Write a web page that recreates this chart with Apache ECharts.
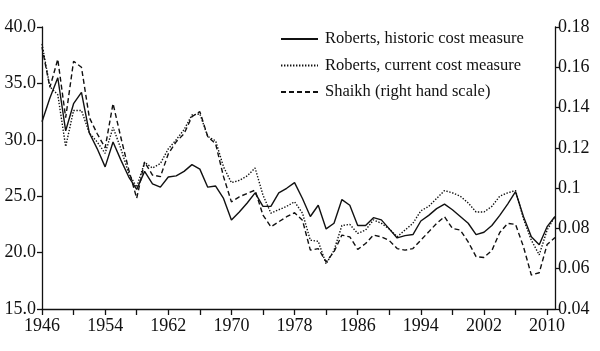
<!DOCTYPE html>
<html><head><meta charset="utf-8">
<script src="https://cdn.jsdelivr.net/npm/echarts@6/dist/echarts.min.js"></script>
<style>html,body{margin:0;padding:0;background:#fff}#c{width:600px;height:351px}</style>
</head><body><div id="c"></div>
<script>
var years = [];
for (var y = 1946; y <= 2011; y++) years.push(String(y));

var historic = [31.6,33.7,35.5,30.8,33.2,34.2,30.6,29.2,27.6,29.8,28.2,26.7,25.6,27.2,26.1,25.8,26.7,26.8,27.2,27.8,27.4,25.8,25.9,24.8,22.9,23.6,24.4,25.3,24.1,24.1,25.3,25.7,26.2,24.8,23.2,24.2,22.1,22.6,24.7,24.2,22.4,22.4,23.1,22.9,22.1,21.3,21.5,21.6,22.8,23.3,23.9,24.3,23.8,23.2,22.6,21.6,21.8,22.4,23.3,24.3,25.4,23.2,21.4,20.7,22.3,23.2];

var current = [38.5,34.7,34.0,29.4,32.6,32.6,30.6,29.8,28.8,31.1,29.2,27.0,25.8,28.0,27.5,27.9,29.2,30.0,30.9,32.2,32.3,30.3,29.9,27.6,26.2,26.4,26.8,27.5,25.1,23.5,23.8,24.1,24.5,23.5,21.1,21.0,19.0,20.2,22.4,22.5,21.7,22.0,22.9,22.6,22.1,21.4,22.0,22.6,23.7,24.1,24.8,25.5,25.3,25.0,24.4,23.6,23.6,24.1,25.0,25.3,25.5,23.0,21.1,19.8,22.0,23.2];

var shaikh = [0.170,0.150,0.164,0.135,0.163,0.160,0.135,0.127,0.120,0.142,0.125,0.109,0.095,0.113,0.1065,0.1057,0.117,0.123,0.127,0.1355,0.138,0.1256,0.122,0.1057,0.0932,0.0957,0.0974,0.099,0.0866,0.0808,0.0833,0.0858,0.0878,0.0841,0.0692,0.070,0.0634,0.0684,0.0767,0.0758,0.0696,0.0725,0.0767,0.0758,0.074,0.070,0.0692,0.070,0.0742,0.0783,0.0825,0.0858,0.080,0.0792,0.0733,0.066,0.0656,0.069,0.078,0.0825,0.082,0.071,0.0569,0.058,0.072,0.0755];

var names = ['Roberts, historic cost measure','Roberts, current cost measure','Shaikh (right hand scale)'];

var font = 'Liberation Serif';
var axisLineStyle = {color:'#111', width:1.3};

var chart = echarts.init(document.getElementById('c'), null, {renderer:'canvas'});
chart.setOption({
  animation:false,
  backgroundColor:'#fff',
  grid:{left:42, right:45, top:27, bottom:42},
  legend:{
    orient:'vertical', left:280, top:30, padding:0,
    itemWidth:37, itemHeight:18, itemGap:8.5,
    itemStyle:{opacity:0},
    textStyle:{fontFamily:font, fontSize:16.5, color:'#111', lineHeight:18, padding:[0,0,0,2]},
    data:names
  },
  xAxis:{
    type:'category', data:years, boundaryGap:false,
    axisLine:{lineStyle:axisLineStyle},
    axisTick:{interval:3, length:6, lineStyle:axisLineStyle},
    axisLabel:{interval:7, fontFamily:font, fontSize:18, color:'#111', margin:8},
    splitLine:{show:false}
  },
  yAxis:[{
    type:'value', min:15, max:40, interval:5,
    axisLine:{show:true, lineStyle:axisLineStyle},
    axisTick:{show:true, length:5, lineStyle:axisLineStyle},
    axisLabel:{formatter:function(v){return v.toFixed(1);}, fontFamily:font, fontSize:18, color:'#111', margin:6},
    splitLine:{show:false}
  },{
    type:'value', min:0.04, max:0.18, interval:0.02, position:'right',
    axisLine:{show:true, lineStyle:axisLineStyle},
    axisTick:{show:true, length:5, lineStyle:axisLineStyle},
    axisLabel:{formatter:function(v){return String(Math.round(v*100)/100);}, fontFamily:font, fontSize:18, color:'#111', margin:3},
    splitLine:{show:false}
  }],
  series:[{
    name:names[0], type:'line', data:historic, yAxisIndex:0, symbol:'none',
    lineStyle:{color:'#111', width:1.4, type:'solid'}, itemStyle:{color:'#111'}
  },{
    name:names[1], type:'line', data:current, yAxisIndex:0, symbol:'none',
    lineStyle:{color:'#111', width:1.4, type:[1.4,1.6]}, itemStyle:{color:'#111'}
  },{
    name:names[2], type:'line', data:shaikh, yAxisIndex:1, symbol:'none',
    lineStyle:{color:'#111', width:1.4, type:[5,3]}, itemStyle:{color:'#111'}
  }]
});
</script></body></html>
